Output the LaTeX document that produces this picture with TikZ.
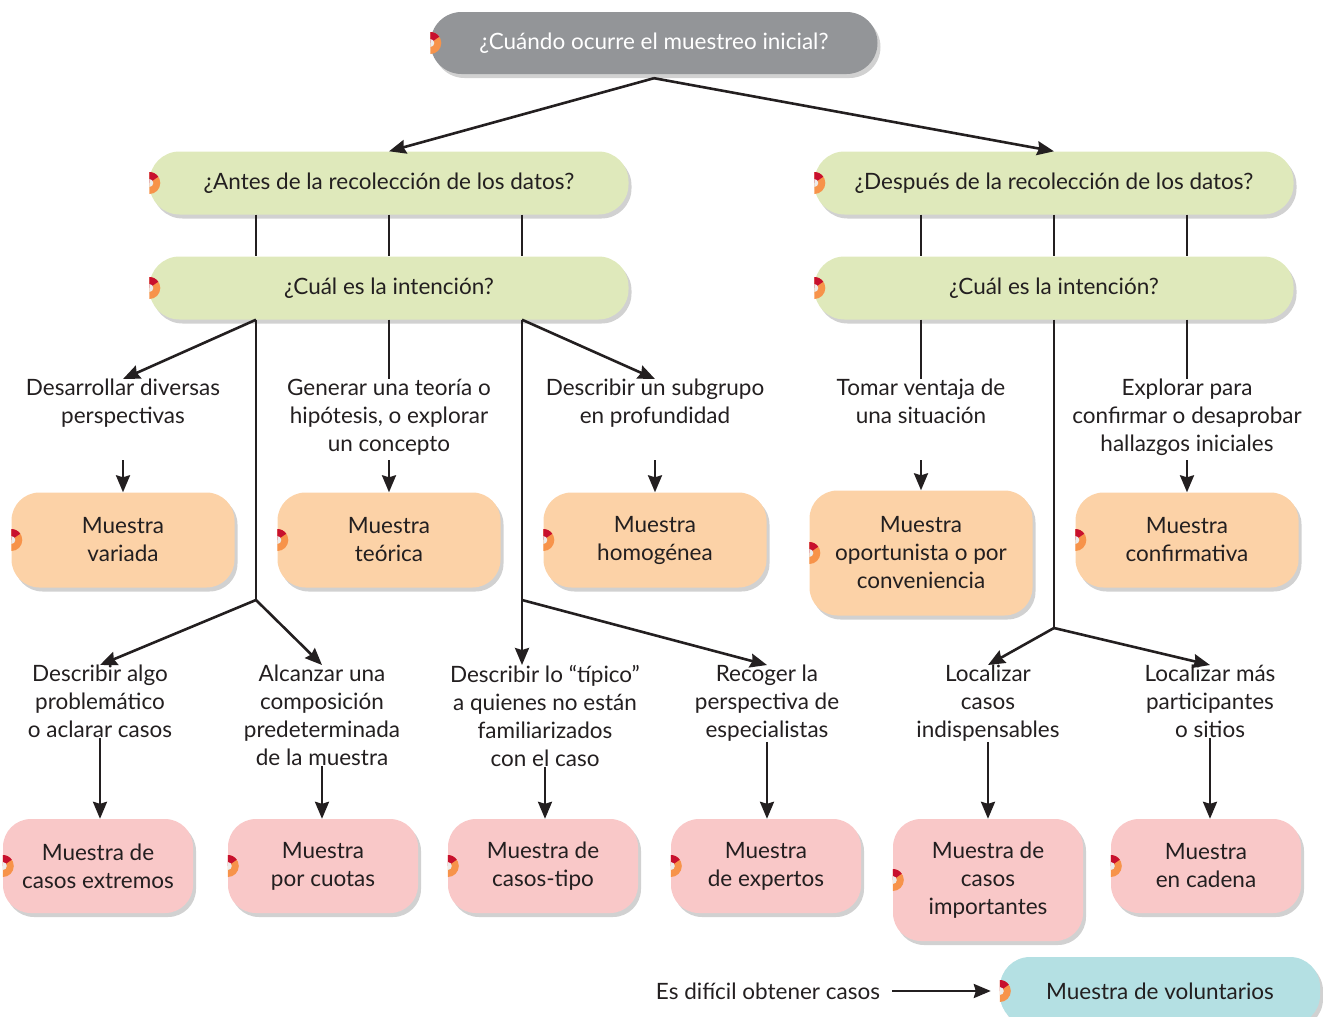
\documentclass[tikz,border=0pt]{standalone}
\usepackage{fontspec}
\setmainfont{Lato}
\usetikzlibrary{arrows.meta,shadows}
\definecolor{tinta}{HTML}{231F20}
\definecolor{grisbox}{HTML}{939598}
\definecolor{verdebox}{HTML}{DFE9BB}
\definecolor{naranjabox}{HTML}{FCD2A7}
\definecolor{rosabox}{HTML}{F9C8C8}
\definecolor{azulbox}{HTML}{B4E0E3}
\definecolor{decona}{HTML}{F7934A}
\definecolor{decoro}{HTML}{C8102E}
\tikzset{
  texto/.style={align=center,text=tinta,font=\fontsize{22.5}{28}\selectfont,inner sep=0pt},
  caja/.style={texto,drop shadow={shadow xshift=3pt,shadow yshift=-4pt,opacity=.18,fill=black}},
  pregunta/.style={caja,fill=verdebox,minimum width=479pt,minimum height=63pt,rounded corners=30pt},
  muestra/.style={caja,fill=naranjabox,minimum width=223pt,minimum height=95pt,rounded corners=28pt},
  caso/.style={caja,fill=rosabox,minimum width=190pt,minimum height=94pt,rounded corners=28pt},
  linea/.style={line width=2.6pt,draw=tinta},
  flecha/.style={linea,-{Stealth[length=17pt,width=14pt,inset=2pt]}}
}
\begin{document}
\begin{tikzpicture}[x=1pt,y=-1pt]
\useasboundingbox (0,0) rectangle (1323,1017);
% preguntas
\node[caja,fill=grisbox,text=white,minimum width=447pt,minimum height=62pt,rounded corners=31pt] (inicio) at (654,43) {¿Cuándo ocurre el muestreo inicial?};
\node[pregunta] (antes) at (389,183) {¿Antes de la recolección de los datos?};
\node[pregunta] (despues) at (1054,183) {¿Después de la recolección de los datos?};
\node[pregunta] (int1) at (389,288) {¿Cuál es la intención?};
\node[pregunta] (int2) at (1054,288) {¿Cuál es la intención?};
% primera fila
\node[texto,anchor=north] (desarrollar) at (123,379) {Desarrollar diversas\\perspectivas};
\node[texto,anchor=north] (generar) at (389,379) {Generar una teoría o\\hipótesis, o explorar\\un concepto};
\node[texto,anchor=north] (subgrupo) at (655,379) {Describir un subgrupo\\en profundidad};
\node[texto,anchor=north] (ventaja) at (921,379) {Tomar ventaja de\\una situación};
\node[texto,anchor=north] (explorar) at (1187,379) {Explorar para\\confirmar o desaprobar\\hallazgos iniciales};
\node[muestra] (variada) at (123,540) {Muestra\\variada};
\node[muestra] (teorica) at (389,540) {Muestra\\teórica};
\node[muestra] (homogenea) at (655,540) {Muestra\\homogénea};
\node[muestra,minimum height=125pt] (oportunista) at (921,553) {Muestra\\oportunista o por\\conveniencia};
\node[muestra] (confirmativa) at (1187,540) {Muestra\\confirmativa};
% segunda fila
\node[texto,anchor=north] (algo) at (100,665) {Describir algo\\problemático\\o aclarar casos};
\node[texto,anchor=north] (alcanzar) at (322,665) {Alcanzar una\\composición\\predeterminada\\de la muestra};
\node[texto,anchor=north] (tipico) at (545,665) {Describir lo “típico”\\a quienes no están\\familiarizados\\con el caso};
\node[texto,anchor=north] (recoger) at (767,665) {Recoger la\\perspectiva de\\especialistas};
\node[texto,anchor=north] (indisp) at (988,665) {Localizar\\casos\\indispensables};
\node[texto,anchor=north] (mas) at (1210,665) {Localizar más\\participantes\\o sitios};
\node[caso] (extremos) at (98,866) {Muestra de\\casos extremos};
\node[caso] (cuotas) at (323,866) {Muestra\\por cuotas};
\node[caso] (casostipo) at (543,866) {Muestra de\\casos-tipo};
\node[caso] (expertos) at (766,866) {Muestra\\de expertos};
\node[caso,minimum height=122pt] (importantes) at (988,880) {Muestra de\\casos\\importantes};
\node[caso] (cadena) at (1206,866) {Muestra\\en cadena};
\node[texto] (dificil) at (768,991) {Es difícil obtener casos};
\node[caja,fill=azulbox,minimum width=320pt,minimum height=68pt,rounded corners=30pt] (voluntarios) at (1160,991) {Muestra de voluntarios};
% marcas
\foreach \n in {inicio,antes,despues,int1,int2,variada,teorica,homogenea,oportunista,confirmativa,
    extremos,cuotas,casostipo,expertos,importantes,cadena,voluntarios} {
  \begin{scope}[shift={(\n.west)},y=1pt]
    \fill[decona] (0,11) arc (90:-90:11) -- cycle;
    \fill[decoro] (0,0) -- (0,11) arc (90:35:11) -- cycle;
    \fill[white!85!gray] (0,4) arc (90:-90:4) -- cycle;
  \end{scope}
}
% ramas
\coordinate (r1) at (256,600);
\coordinate (r2) at (522,600);
\coordinate (r3) at (1054,628);
\draw[flecha] ([yshift=-4pt]inicio.south) -- (antes.north);
\draw[flecha] ([yshift=-4pt]inicio.south) -- (despues.north);
\foreach \d in {-133,0,133} {
  \draw[linea] ([xshift=\d pt]antes.south) -- ([xshift=\d pt]int1.north);
  \draw[linea] ([xshift=\d pt]despues.south) -- ([xshift=\d pt]int2.north);
}
\draw[flecha] ([xshift=-133pt]int1.south) -- (desarrollar.north);
\draw[linea] ([xshift=-133pt]int1.south) -- (r1);
\draw[linea] (int1.south) -- (generar.north);
\draw[flecha] ([xshift=133pt]int1.south) -- (subgrupo.north);
\draw[linea] ([xshift=133pt]int1.south) -- (r2);
\draw[linea] ([xshift=-133pt]int2.south) -- (ventaja.north);
\draw[linea] (int2.south) -- (r3);
\draw[linea] ([xshift=133pt]int2.south) -- (explorar.north);
\draw[flecha] (r1) -- (algo.north);
\draw[flecha] (r1) -- (alcanzar.north);
\draw[flecha] (r2) -- (r2 |- tipico.north);
\draw[flecha] (r2) -- (recoger.north);
\draw[flecha] (r3) -- (indisp.north);
\draw[flecha] (r3) -- (mas.north);
% flechas cortas
\draw[flecha] ([yshift=-81pt]desarrollar.north) -- (variada.north);
\draw[flecha] ([yshift=-81pt]generar.north) -- (teorica.north);
\draw[flecha] ([yshift=-81pt]subgrupo.north) -- (homogenea.north);
\draw[flecha] ([yshift=-81pt]ventaja.north) -- (oportunista.north);
\draw[flecha] ([yshift=-81pt]explorar.north) -- (confirmativa.north);
\draw[flecha] (algo.south) -- (algo.south |- extremos.north);
\draw[flecha] (alcanzar.south) -- (alcanzar.south |- cuotas.north);
\draw[flecha] (tipico.south) -- (tipico.south |- casostipo.north);
\draw[flecha] (recoger.south) -- (recoger.south |- expertos.north);
\draw[flecha] (indisp.south) -- (indisp.south |- importantes.north);
\draw[flecha] (mas.south) -- (mas.south |- cadena.north);
\draw[flecha] ([xshift=12pt]dificil.east) -- ([xshift=-9pt]voluntarios.west);
\end{tikzpicture}
\end{document}
